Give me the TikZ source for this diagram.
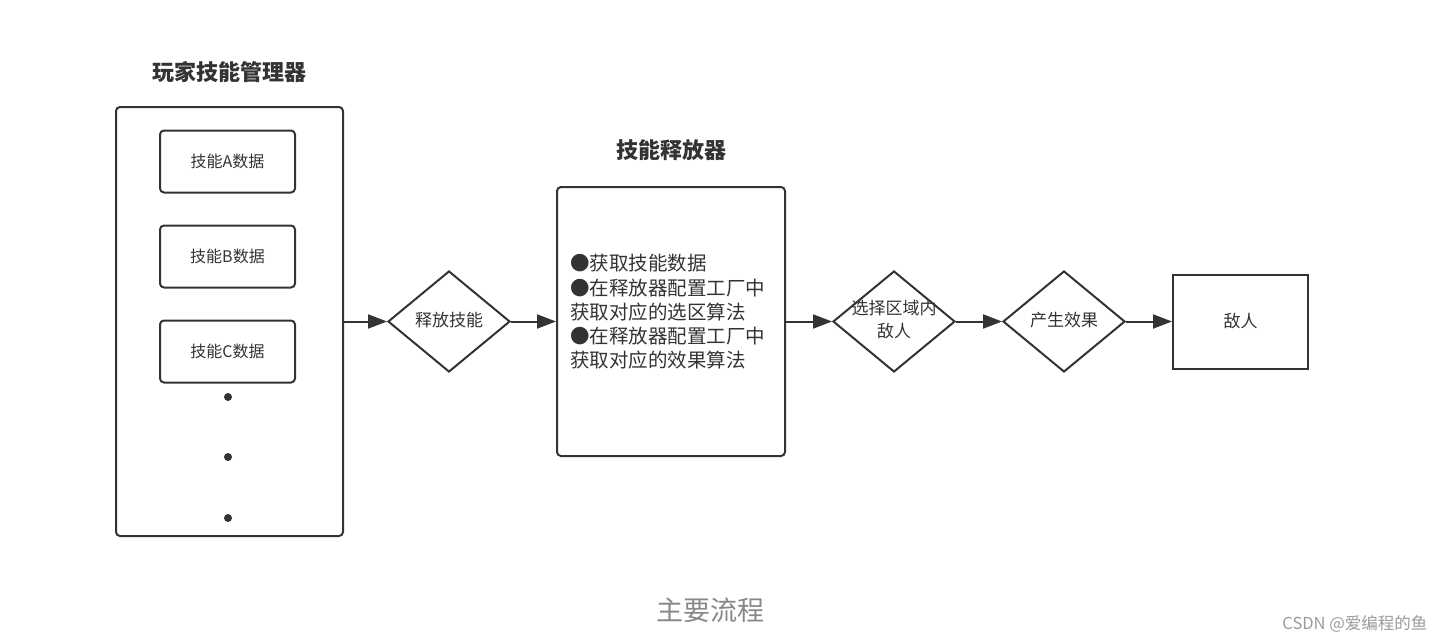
\documentclass[tikz,border=0pt]{standalone}
\usepackage{fontspec}
\setmainfont{Noto Sans CJK SC}
\usepackage{xcolor}
\usetikzlibrary{arrows.meta, positioning, shapes.geometric}

\definecolor{ink}{HTML}{333333}
\definecolor{capgray}{HTML}{888888}
\definecolor{markgray}{HTML}{9A9A9A}
% text of zero width, so it may run over the diamond's edges
\newcommand{\freetext}[1]{\makebox[0pt]{\begin{tabular}{@{}c@{}}#1\end{tabular}}}

\begin{document}
\begin{tikzpicture}[
    x=1pt, y=1pt,
    box/.style={rectangle, rounded corners=4pt, draw=ink, line width=2pt, text=ink},
    skillbox/.style={box, minimum width=135pt, minimum height=62pt, font=\fontsize{16}{19}\selectfont},
    choice/.style={diamond, draw=ink, line width=2pt, inner sep=0pt, minimum width=122pt, minimum height=101pt, text=ink, font=\fontsize{17}{23}\selectfont},
    title/.style={font=\fontsize{22}{26}\selectfont\bfseries, text=ink},
    arrow/.style={-{Triangle[length=19pt, width=14pt]}, ink, line width=2pt}
]
    \useasboundingbox (0,0) rectangle (1443,-642);

    % skill manager
    \node[box, minimum width=227pt, minimum height=429pt] (mgr) at (229.5,-321.5) {};
    \node[title, above=20pt of mgr] (mgrtitle) {玩家技能管理器};
    \node[skillbox] (skilla) at (227.5,-161.5) {技能A数据};
    \node[skillbox, below=31pt of skilla] (skillb) {技能B数据};
    \node[skillbox, below=31pt of skillb] (skillc) {技能C数据};
    \foreach \i/\y in {1/397, 2/457, 3/518}
        \node[circle, fill=ink, inner sep=0pt, minimum size=8pt] (dot\i) at (228,-\y) {};

    \node[choice, right=43pt of mgr] (cast) {\freetext{释放技能}};

    % skill releaser
    \node[box, minimum width=228pt, minimum height=269pt, right=45pt of cast] (rel)
        {\raisebox{7pt}[0pt][0pt]{\hspace*{3pt}\parbox{205pt}{\fontsize{19.5}{24.3}\selectfont
        ●获取技能数据\\
        ●在释放器配置工厂中\\
        获取对应的选区算法\\
        ●在释放器配置工厂中\\
        获取对应的效果算法}}};
    \node[title, above=22pt of rel] (reltitle) {技能释放器};

    \node[choice, right=46pt of rel] (pick) {\freetext{选择区域内\\敌人}};
    \node[choice, right=46pt of pick] (effect) {\freetext{产生效果}};
    \node[rectangle, draw=ink, line width=2pt, minimum width=135pt, minimum height=94pt,
        text=ink, font=\fontsize{17}{20}\selectfont, right=46pt of effect] (enemy) {敌人};

    \draw[arrow] (mgr.east) -- (cast.west);
    \draw[arrow] (cast.east) -- (rel.west);
    \draw[arrow] (rel.east) -- (pick.west);
    \draw[arrow] (pick.east) -- (effect.west);
    \draw[arrow] (effect.east) -- (enemy.west);

    \node[text=capgray, font=\fontsize{27}{30}\selectfont] (caption) at (710,-610) {主要流程};
    \node[text=markgray, font=\fontsize{16.5}{19}\selectfont, anchor=east] (mark) at (1431,-624) {CSDN @爱编程的鱼};
\end{tikzpicture}
\end{document}
